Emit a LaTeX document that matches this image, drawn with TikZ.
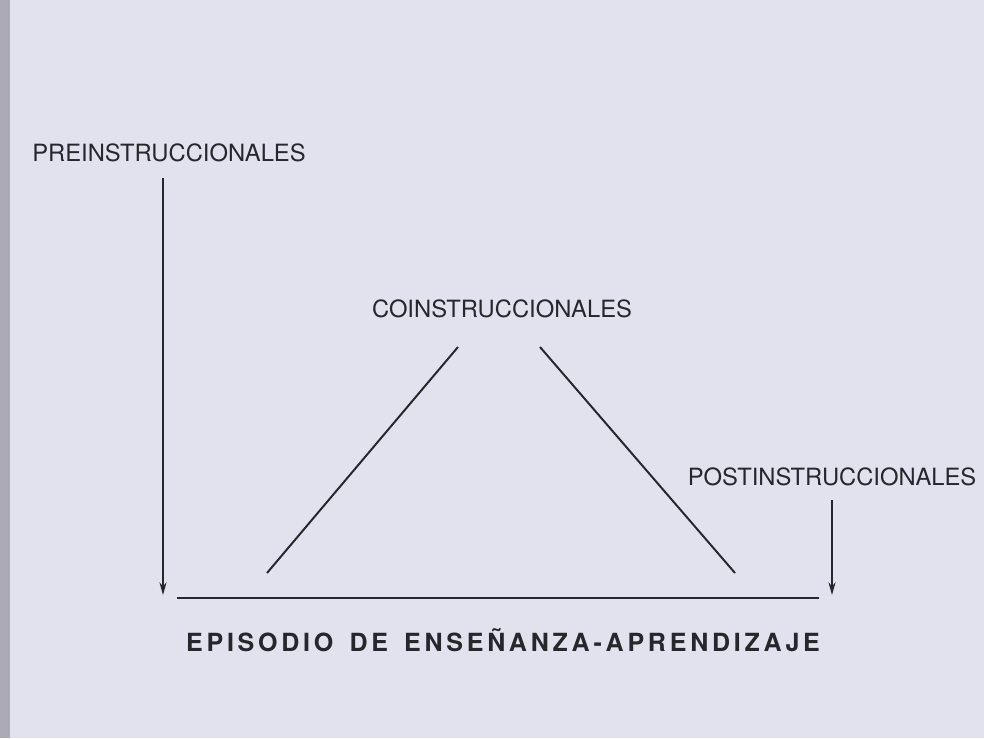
\documentclass[tikz,border=0pt]{standalone}
\usepackage{fontspec}
\setmainfont{TeX Gyre Heros}
\newfontfamily\titulofont{TeX Gyre Heros}[LetterSpace=15, WordSpace=1.5]
\usetikzlibrary{arrows.meta}
\definecolor{papel}{RGB}{226,225,238}
\definecolor{borde}{RGB}{172,170,182}
\definecolor{tinta}{RGB}{38,38,44}

\begin{document}
\begin{tikzpicture}[x=0.025cm, y=-0.025cm,
    etiqueta/.style={font=\fontsize{16.9}{19}\selectfont, text=tinta, inner sep=0pt},
    titulo/.style={font=\titulofont\fontsize{17.8}{20}\selectfont\bfseries, text=tinta, inner sep=0pt},
    linea/.style={draw=tinta, line width=1.4pt},
    flecha/.style={linea, -{Stealth[length=9pt, width=5pt]}}]
    \fill[papel](0, 0)rectangle(984, 738);
    \fill[borde](0, 0)rectangle(10, 738);
    % textos
    \node[etiqueta](pre) at (169, 153){PREINSTRUCCIONALES};
    \node[etiqueta](co) at (502, 309){COINSTRUCCIONALES};
    \node[etiqueta](post) at (832, 477){POSTINSTRUCCIONALES};
    \node[titulo](episodio) at (503, 640){EPISODIO DE ENSEÑANZA-APRENDIZAJE};
    % puntos
    \coordinate (preA) at (163, 178);
    \coordinate (preB) at (163, 595);
    \coordinate (postA) at (832, 500);
    \coordinate (postB) at (832, 595);
    \coordinate (baseI) at (177, 598);
    \coordinate (baseD) at (819, 598);
    \coordinate (coI) at (458, 347);
    \coordinate (coD) at (540, 347);
    \coordinate (pieI) at (267, 573);
    \coordinate (pieD) at (735, 573);
    % lineas
    \draw[flecha](preA)--(preB);
    \draw[flecha](postA)--(postB);
    \draw[linea](baseI)--(baseD);
    \draw[linea](coI)--(pieI);
    \draw[linea](coD)--(pieD);
\end{tikzpicture}
\end{document}
